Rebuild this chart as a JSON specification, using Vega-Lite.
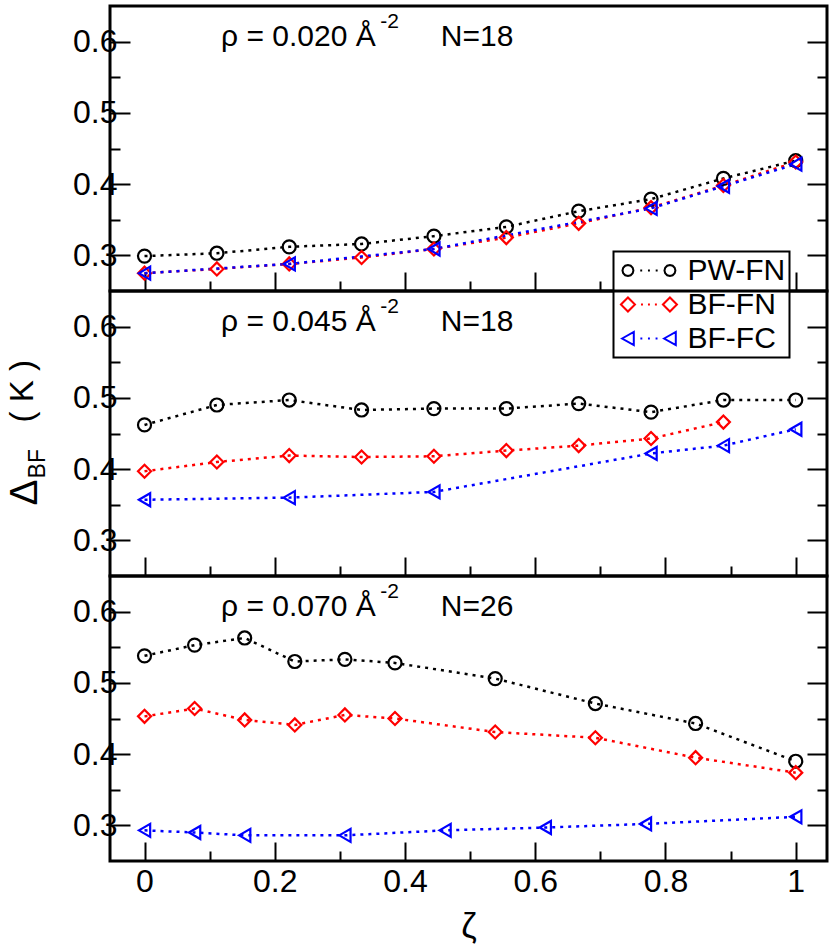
{
  "$schema": "https://vega.github.io/schema/vega-lite/v6.json",
  "autosize": {"type": "pad"},
  "padding": {"left": 4, "top": 4, "right": 2, "bottom": 2},
  "background": "white",
  "bounds": "flush",
  "spacing": 0,
  "resolve": {"legend": {"color": "independent", "shape": "independent"}},
  "config": {
    "view": {"stroke": "black", "strokeWidth": 3},
    "font": "Liberation Sans",
    "axis": {
      "domain": false, "grid": false, "tickColor": "black", "tickWidth": 2,
      "labelColor": "black", "labelFont": "Liberation Sans", "labelFontSize": 32,
      "titleColor": "black", "titleFont": "Liberation Sans", "titleFontWeight": "normal"
    },
    "legend": {"strokeWidth": 2}
  },
  "datasets": {
    "pts": [
      {"panel": "a", "series": "PW-FN", "zeta": 0, "delta": 0.299},
      {"panel": "a", "series": "PW-FN", "zeta": 0.1111, "delta": 0.303},
      {"panel": "a", "series": "PW-FN", "zeta": 0.2222, "delta": 0.312},
      {"panel": "a", "series": "PW-FN", "zeta": 0.3333, "delta": 0.316},
      {"panel": "a", "series": "PW-FN", "zeta": 0.4444, "delta": 0.327},
      {"panel": "a", "series": "PW-FN", "zeta": 0.5556, "delta": 0.340},
      {"panel": "a", "series": "PW-FN", "zeta": 0.6667, "delta": 0.362},
      {"panel": "a", "series": "PW-FN", "zeta": 0.7778, "delta": 0.379},
      {"panel": "a", "series": "PW-FN", "zeta": 0.8889, "delta": 0.408},
      {"panel": "a", "series": "PW-FN", "zeta": 1, "delta": 0.433},
      {"panel": "a", "series": "BF-FN", "zeta": 0, "delta": 0.275},
      {"panel": "a", "series": "BF-FN", "zeta": 0.1111, "delta": 0.281},
      {"panel": "a", "series": "BF-FN", "zeta": 0.2222, "delta": 0.288},
      {"panel": "a", "series": "BF-FN", "zeta": 0.3333, "delta": 0.297},
      {"panel": "a", "series": "BF-FN", "zeta": 0.4444, "delta": 0.309},
      {"panel": "a", "series": "BF-FN", "zeta": 0.5556, "delta": 0.325},
      {"panel": "a", "series": "BF-FN", "zeta": 0.6667, "delta": 0.345},
      {"panel": "a", "series": "BF-FN", "zeta": 0.7778, "delta": 0.367},
      {"panel": "a", "series": "BF-FN", "zeta": 0.8889, "delta": 0.398},
      {"panel": "a", "series": "BF-FN", "zeta": 1, "delta": 0.431},
      {"panel": "a", "series": "BF-FC", "zeta": 0, "delta": 0.275},
      {"panel": "a", "series": "BF-FC", "zeta": 0.2222, "delta": 0.288},
      {"panel": "a", "series": "BF-FC", "zeta": 0.4444, "delta": 0.309},
      {"panel": "a", "series": "BF-FC", "zeta": 0.7778, "delta": 0.366},
      {"panel": "a", "series": "BF-FC", "zeta": 0.8889, "delta": 0.397},
      {"panel": "a", "series": "BF-FC", "zeta": 1, "delta": 0.428},
      {"panel": "b", "series": "PW-FN", "zeta": 0, "delta": 0.462},
      {"panel": "b", "series": "PW-FN", "zeta": 0.1111, "delta": 0.490},
      {"panel": "b", "series": "PW-FN", "zeta": 0.2222, "delta": 0.497},
      {"panel": "b", "series": "PW-FN", "zeta": 0.3333, "delta": 0.483},
      {"panel": "b", "series": "PW-FN", "zeta": 0.4444, "delta": 0.485},
      {"panel": "b", "series": "PW-FN", "zeta": 0.5556, "delta": 0.485},
      {"panel": "b", "series": "PW-FN", "zeta": 0.6667, "delta": 0.492},
      {"panel": "b", "series": "PW-FN", "zeta": 0.7778, "delta": 0.480},
      {"panel": "b", "series": "PW-FN", "zeta": 0.8889, "delta": 0.497},
      {"panel": "b", "series": "PW-FN", "zeta": 1, "delta": 0.497},
      {"panel": "b", "series": "BF-FN", "zeta": 0, "delta": 0.397},
      {"panel": "b", "series": "BF-FN", "zeta": 0.1111, "delta": 0.410},
      {"panel": "b", "series": "BF-FN", "zeta": 0.2222, "delta": 0.419},
      {"panel": "b", "series": "BF-FN", "zeta": 0.3333, "delta": 0.417},
      {"panel": "b", "series": "BF-FN", "zeta": 0.4444, "delta": 0.418},
      {"panel": "b", "series": "BF-FN", "zeta": 0.5556, "delta": 0.426},
      {"panel": "b", "series": "BF-FN", "zeta": 0.6667, "delta": 0.433},
      {"panel": "b", "series": "BF-FN", "zeta": 0.7778, "delta": 0.443},
      {"panel": "b", "series": "BF-FN", "zeta": 0.8889, "delta": 0.466},
      {"panel": "b", "series": "BF-FC", "zeta": 0, "delta": 0.357},
      {"panel": "b", "series": "BF-FC", "zeta": 0.2222, "delta": 0.360},
      {"panel": "b", "series": "BF-FC", "zeta": 0.4444, "delta": 0.368},
      {"panel": "b", "series": "BF-FC", "zeta": 0.7778, "delta": 0.422},
      {"panel": "b", "series": "BF-FC", "zeta": 0.8889, "delta": 0.433},
      {"panel": "b", "series": "BF-FC", "zeta": 1, "delta": 0.456},
      {"panel": "c", "series": "PW-FN", "zeta": 0, "delta": 0.538},
      {"panel": "c", "series": "PW-FN", "zeta": 0.0769, "delta": 0.553},
      {"panel": "c", "series": "PW-FN", "zeta": 0.1538, "delta": 0.563},
      {"panel": "c", "series": "PW-FN", "zeta": 0.2308, "delta": 0.530},
      {"panel": "c", "series": "PW-FN", "zeta": 0.3077, "delta": 0.533},
      {"panel": "c", "series": "PW-FN", "zeta": 0.3846, "delta": 0.528},
      {"panel": "c", "series": "PW-FN", "zeta": 0.5385, "delta": 0.506},
      {"panel": "c", "series": "PW-FN", "zeta": 0.6923, "delta": 0.471},
      {"panel": "c", "series": "PW-FN", "zeta": 0.8462, "delta": 0.443},
      {"panel": "c", "series": "PW-FN", "zeta": 1, "delta": 0.390},
      {"panel": "c", "series": "BF-FN", "zeta": 0, "delta": 0.453},
      {"panel": "c", "series": "BF-FN", "zeta": 0.0769, "delta": 0.464},
      {"panel": "c", "series": "BF-FN", "zeta": 0.1538, "delta": 0.448},
      {"panel": "c", "series": "BF-FN", "zeta": 0.2308, "delta": 0.441},
      {"panel": "c", "series": "BF-FN", "zeta": 0.3077, "delta": 0.455},
      {"panel": "c", "series": "BF-FN", "zeta": 0.3846, "delta": 0.450},
      {"panel": "c", "series": "BF-FN", "zeta": 0.5385, "delta": 0.431},
      {"panel": "c", "series": "BF-FN", "zeta": 0.6923, "delta": 0.423},
      {"panel": "c", "series": "BF-FN", "zeta": 0.8462, "delta": 0.395},
      {"panel": "c", "series": "BF-FN", "zeta": 1, "delta": 0.374},
      {"panel": "c", "series": "BF-FC", "zeta": 0, "delta": 0.293},
      {"panel": "c", "series": "BF-FC", "zeta": 0.0769, "delta": 0.290},
      {"panel": "c", "series": "BF-FC", "zeta": 0.1538, "delta": 0.286},
      {"panel": "c", "series": "BF-FC", "zeta": 0.3077, "delta": 0.286},
      {"panel": "c", "series": "BF-FC", "zeta": 0.4615, "delta": 0.293},
      {"panel": "c", "series": "BF-FC", "zeta": 0.6154, "delta": 0.297},
      {"panel": "c", "series": "BF-FC", "zeta": 0.7692, "delta": 0.302},
      {"panel": "c", "series": "BF-FC", "zeta": 1, "delta": 0.312}
    ],
    "notes": [
      {"panel": "a", "rho": "ρ = 0.020 Å", "exp": "-2", "n": "N=18"},
      {"panel": "b", "rho": "ρ = 0.045 Å", "exp": "-2", "n": "N=18"},
      {"panel": "c", "rho": "ρ = 0.070 Å", "exp": "-2", "n": "N=26"}
    ],
    "one": [{"label": "title"}]
  },
  "vconcat": [
    {
      "width": 717, "height": 285,
      "resolve": {"axis": {"x": "independent", "y": "independent"}, "legend": {"color": "independent", "shape": "independent"}, "scale": {"shape": "independent"}},
      "layer": [
        {
          "data": {"name": "pts"},
          "transform": [{"filter": "datum.panel === 'a'"}],
          "mark": {"type": "line", "strokeDash": [3, 5], "strokeWidth": 2.5},
          "encoding": {
            "x": {"field": "zeta", "type": "quantitative", "scale": {"domain": [-0.053, 1.048], "nice": false, "zero": false},
              "axis": {"orient": "bottom", "values": [0, 0.1, 0.2, 0.3, 0.4, 0.5, 0.6, 0.7, 0.8, 0.9, 1], "tickSize": {"condition": {"test": "abs(datum.value*5-round(datum.value*5))<0.001", "value": -19}, "value": -10}, "labels": false, "title": null}},
            "y": {"field": "delta", "type": "quantitative", "scale": {"domain": [0.25, 0.65], "nice": false, "zero": false},
              "axis": {"orient": "left", "values": [0.3, 0.35, 0.4, 0.45, 0.5, 0.55, 0.6], "tickSize": {"condition": {"test": "abs(datum.value*10-round(datum.value*10))<0.001", "value": -20}, "value": -10}, "labelExpr": "abs(datum.value*10-round(datum.value*10))<0.001 ? format(datum.value, '.1f') : ''", "labelPadding": 13, "title": null}},
            "color": {"field": "series", "type": "nominal", "scale": {"domain": ["PW-FN", "BF-FN", "BF-FC"], "range": ["black", "#ff0000", "#0000ff"]}, "legend": null}
          }
        },
        {
          "data": {"name": "pts"},
          "transform": [{"filter": "datum.panel === 'a'"}],
          "mark": {"type": "point", "filled": false, "strokeWidth": 2.2, "size": 170, "opacity": 1},
          "encoding": {
            "x": {"field": "zeta", "type": "quantitative", "scale": {"domain": [-0.053, 1.048], "nice": false, "zero": false}, "axis": null},
            "y": {"field": "delta", "type": "quantitative", "scale": {"domain": [0.25, 0.65], "nice": false, "zero": false},
              "axis": {"orient": "right", "values": [0.3, 0.35, 0.4, 0.45, 0.5, 0.55, 0.6], "tickSize": {"condition": {"test": "abs(datum.value*10-round(datum.value*10))<0.001", "value": -20}, "value": -10}, "labels": false, "title": null}},
            "color": {"field": "series", "type": "nominal", "scale": {"domain": ["PW-FN", "BF-FN", "BF-FC"], "range": ["black", "#ff0000", "#0000ff"]}, "legend": null},
            "shape": {"field": "series", "type": "nominal", "scale": {"domain": ["PW-FN", "BF-FN", "BF-FC"], "range": ["circle", "diamond", "triangle-left"]}, "legend": null}
          }
        },
        {
          "data": {"name": "pts"},
          "transform": [{"filter": "false"}],
          "mark": {"type": "point", "filled": false, "strokeWidth": 2, "opacity": 1},
          "encoding": {
            "x": {"field": "zeta", "type": "quantitative", "scale": {"domain": [-0.053, 1.048], "nice": false, "zero": false}, "axis": null},
            "y": {"field": "delta", "type": "quantitative", "scale": {"domain": [0.25, 0.65], "nice": false, "zero": false}, "axis": null},
            "color": {"field": "series", "type": "nominal", "scale": {"domain": ["PW-FN", "BF-FN", "BF-FC"], "range": ["black", "#ff0000", "#0000ff"]},
              "legend": {
                "orient": "none", "legendX": 503.5, "legendY": 245.5, "title": null,
                "padding": 4, "strokeColor": "black", "fillColor": "white",
                "labelFont": "Liberation Sans", "labelFontSize": 30, "labelColor": "black", "labelOffset": 40,
                "rowPadding": 4, "symbolSize": 676, "symbolStrokeWidth": 2, "symbolFillColor": "transparent"
              }},
            "shape": {"field": "series", "type": "nominal",
              "scale": {"domain": ["PW-FN", "BF-FN", "BF-FC"], "range": [
                "M0.07,0L0.014,0.21L-0.14,0.364L-0.35,0.42L-0.56,0.364L-0.714,0.21L-0.77,0L-0.714,-0.21L-0.56,-0.364L-0.35,-0.42L-0.14,-0.364L0.014,-0.21ZM3.3,0L3.244,0.21L3.09,0.364L2.88,0.42L2.67,0.364L2.516,0.21L2.46,0L2.516,-0.21L2.67,-0.364L2.88,-0.42L3.09,-0.364L3.244,-0.21ZM0.595,0L0.745,0M1.19,0L1.34,0M1.785,0L1.935,0",
                "M-0.89,0L-0.35,-0.54L0.19,0L-0.35,0.54ZM2.34,0L2.88,-0.54L3.42,0L2.88,0.54ZM0.655,0L0.805,0M1.19,0L1.34,0M1.725,0L1.875,0",
                "M-0.8,0L0.1,-0.5L0.1,0.5ZM2.43,0L3.33,-0.5L3.33,0.5ZM0.605,0L0.755,0M1.19,0L1.34,0M1.775,0L1.925,0"
              ]},
              "legend": {"orient": "none", "legendX": 503.5, "legendY": 245.5, "title": null}}
          }
        },
        {
          "data": {"name": "notes"},
          "transform": [{"filter": "datum.panel === 'a'"}],
          "mark": {"type": "text", "align": "left", "baseline": "alphabetic", "fontSize": 30, "color": "black"},
          "encoding": {
            "x": {"datum": 0.1175, "type": "quantitative", "scale": {"domain": [-0.053, 1.048], "nice": false, "zero": false}, "axis": null},
            "y": {"datum": 0.594, "type": "quantitative", "scale": {"domain": [0.25, 0.65], "nice": false, "zero": false}, "axis": null},
            "text": {"field": "rho"}
          }
        },
        {
          "data": {"name": "notes"},
          "transform": [{"filter": "datum.panel === 'a'"}],
          "mark": {"type": "text", "align": "left", "baseline": "alphabetic", "fontSize": 21, "color": "black"},
          "encoding": {
            "x": {"datum": 0.362, "type": "quantitative", "scale": {"domain": [-0.053, 1.048], "nice": false, "zero": false}, "axis": null},
            "y": {"datum": 0.6196, "type": "quantitative", "scale": {"domain": [0.25, 0.65], "nice": false, "zero": false}, "axis": null},
            "text": {"field": "exp"}
          }
        },
        {
          "data": {"name": "notes"},
          "transform": [{"filter": "datum.panel === 'a'"}],
          "mark": {"type": "text", "align": "left", "baseline": "alphabetic", "fontSize": 30, "color": "black"},
          "encoding": {
            "x": {"datum": 0.455, "type": "quantitative", "scale": {"domain": [-0.053, 1.048], "nice": false, "zero": false}, "axis": null},
            "y": {"datum": 0.594, "type": "quantitative", "scale": {"domain": [0.25, 0.65], "nice": false, "zero": false}, "axis": null},
            "text": {"field": "n"}
          }
        }
      ]
    },
    {
      "width": 717, "height": 285,
      "resolve": {"axis": {"x": "independent", "y": "independent"}, "legend": {"color": "independent", "shape": "independent"}},
      "layer": [
        {
          "data": {"name": "pts"},
          "transform": [{"filter": "datum.panel === 'b'"}],
          "mark": {"type": "line", "strokeDash": [3, 5], "strokeWidth": 2.5},
          "encoding": {
            "x": {"field": "zeta", "type": "quantitative", "scale": {"domain": [-0.053, 1.048], "nice": false, "zero": false},
              "axis": {"orient": "bottom", "values": [0, 0.1, 0.2, 0.3, 0.4, 0.5, 0.6, 0.7, 0.8, 0.9, 1], "tickSize": {"condition": {"test": "abs(datum.value*5-round(datum.value*5))<0.001", "value": -19}, "value": -10}, "labels": false, "title": null}},
            "y": {"field": "delta", "type": "quantitative", "scale": {"domain": [0.25, 0.65], "nice": false, "zero": false},
              "axis": {"orient": "left", "values": [0.3, 0.35, 0.4, 0.45, 0.5, 0.55, 0.6], "tickSize": {"condition": {"test": "abs(datum.value*10-round(datum.value*10))<0.001", "value": -20}, "value": -10}, "labelExpr": "abs(datum.value*10-round(datum.value*10))<0.001 ? format(datum.value, '.1f') : ''", "labelPadding": 13, "title": null}},
            "color": {"field": "series", "type": "nominal", "scale": {"domain": ["PW-FN", "BF-FN", "BF-FC"], "range": ["black", "#ff0000", "#0000ff"]}, "legend": null}
          }
        },
        {
          "data": {"name": "pts"},
          "transform": [{"filter": "datum.panel === 'b'"}],
          "mark": {"type": "point", "filled": false, "strokeWidth": 2.2, "size": 170, "opacity": 1},
          "encoding": {
            "x": {"field": "zeta", "type": "quantitative", "scale": {"domain": [-0.053, 1.048], "nice": false, "zero": false}, "axis": null},
            "y": {"field": "delta", "type": "quantitative", "scale": {"domain": [0.25, 0.65], "nice": false, "zero": false},
              "axis": {"orient": "right", "values": [0.3, 0.35, 0.4, 0.45, 0.5, 0.55, 0.6], "tickSize": {"condition": {"test": "abs(datum.value*10-round(datum.value*10))<0.001", "value": -20}, "value": -10}, "labels": false, "title": null}},
            "color": {"field": "series", "type": "nominal", "scale": {"domain": ["PW-FN", "BF-FN", "BF-FC"], "range": ["black", "#ff0000", "#0000ff"]}, "legend": null},
            "shape": {"field": "series", "type": "nominal", "scale": {"domain": ["PW-FN", "BF-FN", "BF-FC"], "range": ["circle", "diamond", "triangle-left"]}, "legend": null}
          }
        },
        {
          "data": {"name": "notes"},
          "transform": [{"filter": "datum.panel === 'b'"}],
          "mark": {"type": "text", "align": "left", "baseline": "alphabetic", "fontSize": 30, "color": "black"},
          "encoding": {
            "x": {"datum": 0.1175, "type": "quantitative", "scale": {"domain": [-0.053, 1.048], "nice": false, "zero": false}, "axis": null},
            "y": {"datum": 0.594, "type": "quantitative", "scale": {"domain": [0.25, 0.65], "nice": false, "zero": false}, "axis": null},
            "text": {"field": "rho"}
          }
        },
        {
          "data": {"name": "notes"},
          "transform": [{"filter": "datum.panel === 'b'"}],
          "mark": {"type": "text", "align": "left", "baseline": "alphabetic", "fontSize": 21, "color": "black"},
          "encoding": {
            "x": {"datum": 0.362, "type": "quantitative", "scale": {"domain": [-0.053, 1.048], "nice": false, "zero": false}, "axis": null},
            "y": {"datum": 0.6196, "type": "quantitative", "scale": {"domain": [0.25, 0.65], "nice": false, "zero": false}, "axis": null},
            "text": {"field": "exp"}
          }
        },
        {
          "data": {"name": "notes"},
          "transform": [{"filter": "datum.panel === 'b'"}],
          "mark": {"type": "text", "align": "left", "baseline": "alphabetic", "fontSize": 30, "color": "black"},
          "encoding": {
            "x": {"datum": 0.455, "type": "quantitative", "scale": {"domain": [-0.053, 1.048], "nice": false, "zero": false}, "axis": null},
            "y": {"datum": 0.594, "type": "quantitative", "scale": {"domain": [0.25, 0.65], "nice": false, "zero": false}, "axis": null},
            "text": {"field": "n"}
          }
        },
        {
          "data": {"name": "one"},
          "mark": {"type": "text", "text": "Δ", "angle": 270, "align": "left", "baseline": "alphabetic", "fontSize": 39, "color": "black"},
          "encoding": {
            "x": {"datum": -0.1647, "type": "quantitative", "scale": {"domain": [-0.053, 1.048], "nice": false, "zero": false}, "axis": null},
            "y": {"datum": 0.349, "type": "quantitative", "scale": {"domain": [0.25, 0.65], "nice": false, "zero": false}, "axis": null}
          }
        },
        {
          "data": {"name": "one"},
          "mark": {"type": "text", "text": "BF", "angle": 270, "align": "left", "baseline": "alphabetic", "fontSize": 23, "color": "black"},
          "encoding": {
            "x": {"datum": -0.1525, "type": "quantitative", "scale": {"domain": [-0.053, 1.048], "nice": false, "zero": false}, "axis": null},
            "y": {"datum": 0.387, "type": "quantitative", "scale": {"domain": [0.25, 0.65], "nice": false, "zero": false}, "axis": null}
          }
        },
        {
          "data": {"name": "one"},
          "mark": {"type": "text", "text": "( K )", "angle": 270, "align": "left", "baseline": "alphabetic", "fontSize": 33, "color": "black"},
          "encoding": {
            "x": {"datum": -0.171, "type": "quantitative", "scale": {"domain": [-0.053, 1.048], "nice": false, "zero": false}, "axis": null},
            "y": {"datum": 0.4655, "type": "quantitative", "scale": {"domain": [0.25, 0.65], "nice": false, "zero": false}, "axis": null}
          }
        }
      ]
    },
    {
      "width": 717, "height": 285,
      "resolve": {"axis": {"x": "independent", "y": "independent"}, "legend": {"color": "independent", "shape": "independent"}},
      "layer": [
        {
          "data": {"name": "pts"},
          "transform": [{"filter": "datum.panel === 'c'"}],
          "mark": {"type": "line", "strokeDash": [3, 5], "strokeWidth": 2.5},
          "encoding": {
            "x": {"field": "zeta", "type": "quantitative", "scale": {"domain": [-0.053, 1.048], "nice": false, "zero": false},
              "axis": {"orient": "bottom", "values": [0, 0.1, 0.2, 0.3, 0.4, 0.5, 0.6, 0.7, 0.8, 0.9, 1], "tickSize": {"condition": {"test": "abs(datum.value*5-round(datum.value*5))<0.001", "value": -19}, "value": -10}, "labelExpr": "abs(datum.value*5-round(datum.value*5))<0.001 ? format(datum.value, '~g') : ''", "labelPadding": 24, "title": "ζ", "titleFontSize": 35, "titlePadding": 12}},
            "y": {"field": "delta", "type": "quantitative", "scale": {"domain": [0.25, 0.65], "nice": false, "zero": false},
              "axis": {"orient": "left", "values": [0.3, 0.35, 0.4, 0.45, 0.5, 0.55, 0.6], "tickSize": {"condition": {"test": "abs(datum.value*10-round(datum.value*10))<0.001", "value": -20}, "value": -10}, "labelExpr": "abs(datum.value*10-round(datum.value*10))<0.001 ? format(datum.value, '.1f') : ''", "labelPadding": 13, "title": null}},
            "color": {"field": "series", "type": "nominal", "scale": {"domain": ["PW-FN", "BF-FN", "BF-FC"], "range": ["black", "#ff0000", "#0000ff"]}, "legend": null}
          }
        },
        {
          "data": {"name": "pts"},
          "transform": [{"filter": "datum.panel === 'c'"}],
          "mark": {"type": "point", "filled": false, "strokeWidth": 2.2, "size": 170, "opacity": 1},
          "encoding": {
            "x": {"field": "zeta", "type": "quantitative", "scale": {"domain": [-0.053, 1.048], "nice": false, "zero": false}, "axis": null},
            "y": {"field": "delta", "type": "quantitative", "scale": {"domain": [0.25, 0.65], "nice": false, "zero": false},
              "axis": {"orient": "right", "values": [0.3, 0.35, 0.4, 0.45, 0.5, 0.55, 0.6], "tickSize": {"condition": {"test": "abs(datum.value*10-round(datum.value*10))<0.001", "value": -20}, "value": -10}, "labels": false, "title": null}},
            "color": {"field": "series", "type": "nominal", "scale": {"domain": ["PW-FN", "BF-FN", "BF-FC"], "range": ["black", "#ff0000", "#0000ff"]}, "legend": null},
            "shape": {"field": "series", "type": "nominal", "scale": {"domain": ["PW-FN", "BF-FN", "BF-FC"], "range": ["circle", "diamond", "triangle-left"]}, "legend": null}
          }
        },
        {
          "data": {"name": "notes"},
          "transform": [{"filter": "datum.panel === 'c'"}],
          "mark": {"type": "text", "align": "left", "baseline": "alphabetic", "fontSize": 30, "color": "black"},
          "encoding": {
            "x": {"datum": 0.1175, "type": "quantitative", "scale": {"domain": [-0.053, 1.048], "nice": false, "zero": false}, "axis": null},
            "y": {"datum": 0.594, "type": "quantitative", "scale": {"domain": [0.25, 0.65], "nice": false, "zero": false}, "axis": null},
            "text": {"field": "rho"}
          }
        },
        {
          "data": {"name": "notes"},
          "transform": [{"filter": "datum.panel === 'c'"}],
          "mark": {"type": "text", "align": "left", "baseline": "alphabetic", "fontSize": 21, "color": "black"},
          "encoding": {
            "x": {"datum": 0.362, "type": "quantitative", "scale": {"domain": [-0.053, 1.048], "nice": false, "zero": false}, "axis": null},
            "y": {"datum": 0.6196, "type": "quantitative", "scale": {"domain": [0.25, 0.65], "nice": false, "zero": false}, "axis": null},
            "text": {"field": "exp"}
          }
        },
        {
          "data": {"name": "notes"},
          "transform": [{"filter": "datum.panel === 'c'"}],
          "mark": {"type": "text", "align": "left", "baseline": "alphabetic", "fontSize": 30, "color": "black"},
          "encoding": {
            "x": {"datum": 0.455, "type": "quantitative", "scale": {"domain": [-0.053, 1.048], "nice": false, "zero": false}, "axis": null},
            "y": {"datum": 0.594, "type": "quantitative", "scale": {"domain": [0.25, 0.65], "nice": false, "zero": false}, "axis": null},
            "text": {"field": "n"}
          }
        }
      ]
    }
  ]
}
